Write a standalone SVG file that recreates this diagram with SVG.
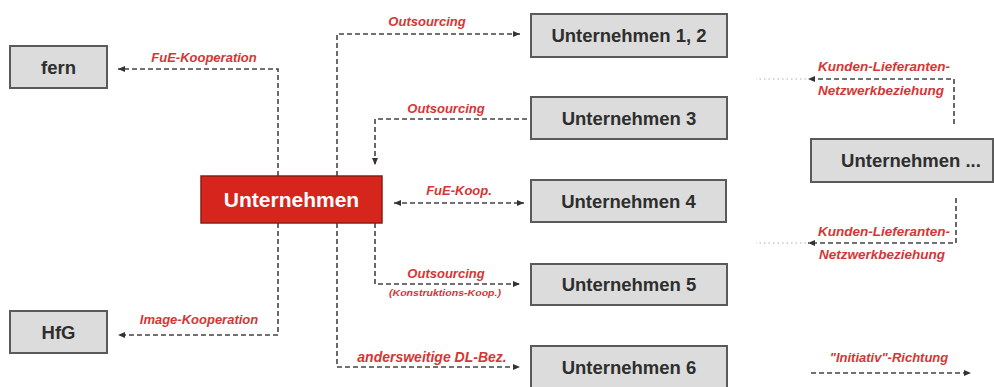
<svg xmlns="http://www.w3.org/2000/svg" width="994" height="387" viewBox="0 0 994 387">
  <style>
    .box { fill: #dcdcdc; stroke: #5a5a5a; stroke-width: 2; }
    .core { fill: #d5251d; stroke: #8c1c16; stroke-width: 1.5; }
    .name { font-family: "Liberation Sans", Arial, sans-serif; font-weight: bold; font-size: 18.5px; fill: #2e2e2e; text-anchor: middle; }
    .core-name { font-family: "Liberation Sans", Arial, sans-serif; font-weight: bold; font-size: 21px; fill: #ffffff; text-anchor: middle; }
    .lbl { font-family: "Liberation Sans", Arial, sans-serif; font-weight: bold; font-style: italic; font-size: 13px; fill: #d63535; text-anchor: middle; }
    .link { fill: none; stroke: #444; stroke-width: 1.6; stroke-dasharray: 5 3; }
    .faint { fill: none; stroke: #b0b0b0; stroke-width: 1.2; stroke-dasharray: 1.5 3; }
  </style>
  <defs>
    <marker id="arrow" markerUnits="userSpaceOnUse" markerWidth="8" markerHeight="8" refX="7" refY="4" orient="auto-start-reverse">
      <path d="M0,1 L7,4 L0,7 Z" fill="#333"/>
    </marker>
  </defs>

  <rect width="994" height="387" fill="#ffffff"/>

  <!-- connectors -->
  <g id="connectors">
    <path class="link" d="M278,176 V69 H118" marker-end="url(#arrow)"/>
    <path class="link" d="M278,223 V335 H118" marker-end="url(#arrow)"/>
    <path class="link" d="M337,176 V34 H520" marker-end="url(#arrow)"/>
    <path class="link" d="M337,223 V367 H520" marker-end="url(#arrow)"/>
    <path class="link" d="M527,119 H375 V165" marker-end="url(#arrow)"/>
    <path class="link" d="M375,223 V284 H520" marker-end="url(#arrow)"/>
    <path class="link" d="M394,203 H524" marker-start="url(#arrow)" marker-end="url(#arrow)"/>
    <path class="link" d="M954,124 V79 H808" marker-end="url(#arrow)"/>
    <path class="faint" d="M806,79 H756"/>
    <path class="link" d="M956,198 V243 H808" marker-end="url(#arrow)"/>
    <path class="faint" d="M806,243 H756"/>
    <path class="link" d="M811,373 H971" marker-end="url(#arrow)"/>
  </g>

  <!-- connector labels -->
  <g id="labels">
    <text class="lbl" x="204" y="62">FuE-Kooperation</text>
    <text class="lbl" x="199" y="324">Image-Kooperation</text>
    <text class="lbl" x="427" y="26">Outsourcing</text>
    <text class="lbl" x="446" y="113">Outsourcing</text>
    <text class="lbl" x="459" y="195">FuE-Koop.</text>
    <text class="lbl" x="446" y="277.5">Outsourcing</text>
    <text class="lbl" x="445" y="296" style="font-size:8.5px" textLength="112" lengthAdjust="spacingAndGlyphs">(Konstruktions-Koop.)</text>
    <text class="lbl" x="432" y="362" style="font-size:14px">andersweitige DL-Bez.</text>
    <text class="lbl" x="884" y="71" style="font-size:13.5px">Kunden-Lieferanten-</text>
    <text class="lbl" x="881" y="94.5" style="font-size:13.5px">Netzwerkbeziehung</text>
    <text class="lbl" x="884" y="236" style="font-size:13.5px">Kunden-Lieferanten-</text>
    <text class="lbl" x="882" y="258.5" style="font-size:13.5px">Netzwerkbeziehung</text>
    <text class="lbl" x="889" y="362">"Initiativ"-Richtung</text>
  </g>

  <!-- nodes -->
  <g id="fern">
    <rect class="box" x="10" y="46" width="97" height="42"/>
    <text class="name" x="58.5" y="73.5">fern</text>
  </g>
  <g id="hfg">
    <rect class="box" x="10" y="311" width="97" height="42"/>
    <text class="name" x="58.5" y="338.5">HfG</text>
  </g>
  <g id="unternehmen">
    <rect class="core" x="201" y="176" width="181" height="47"/>
    <text class="core-name" x="291.5" y="207">Unternehmen</text>
  </g>
  <g id="u12">
    <rect class="box" x="531" y="14" width="196" height="43"/>
    <text class="name" x="629" y="42">Unternehmen 1, 2</text>
  </g>
  <g id="u3">
    <rect class="box" x="531" y="97" width="196" height="42"/>
    <text class="name" x="629" y="124.5">Unternehmen 3</text>
  </g>
  <g id="u4">
    <rect class="box" x="531" y="180" width="195" height="42"/>
    <text class="name" x="628.5" y="207.5">Unternehmen 4</text>
  </g>
  <g id="u5">
    <rect class="box" x="531" y="264" width="196" height="41"/>
    <text class="name" x="629" y="291">Unternehmen 5</text>
  </g>
  <g id="u6">
    <rect class="box" x="531" y="346" width="196" height="46"/>
    <text class="name" x="629" y="374">Unternehmen 6</text>
  </g>
  <g id="u-more">
    <rect class="box" x="811" y="139" width="182" height="43"/>
    <text class="name" x="911" y="167">Unternehmen ...</text>
  </g>
</svg>
